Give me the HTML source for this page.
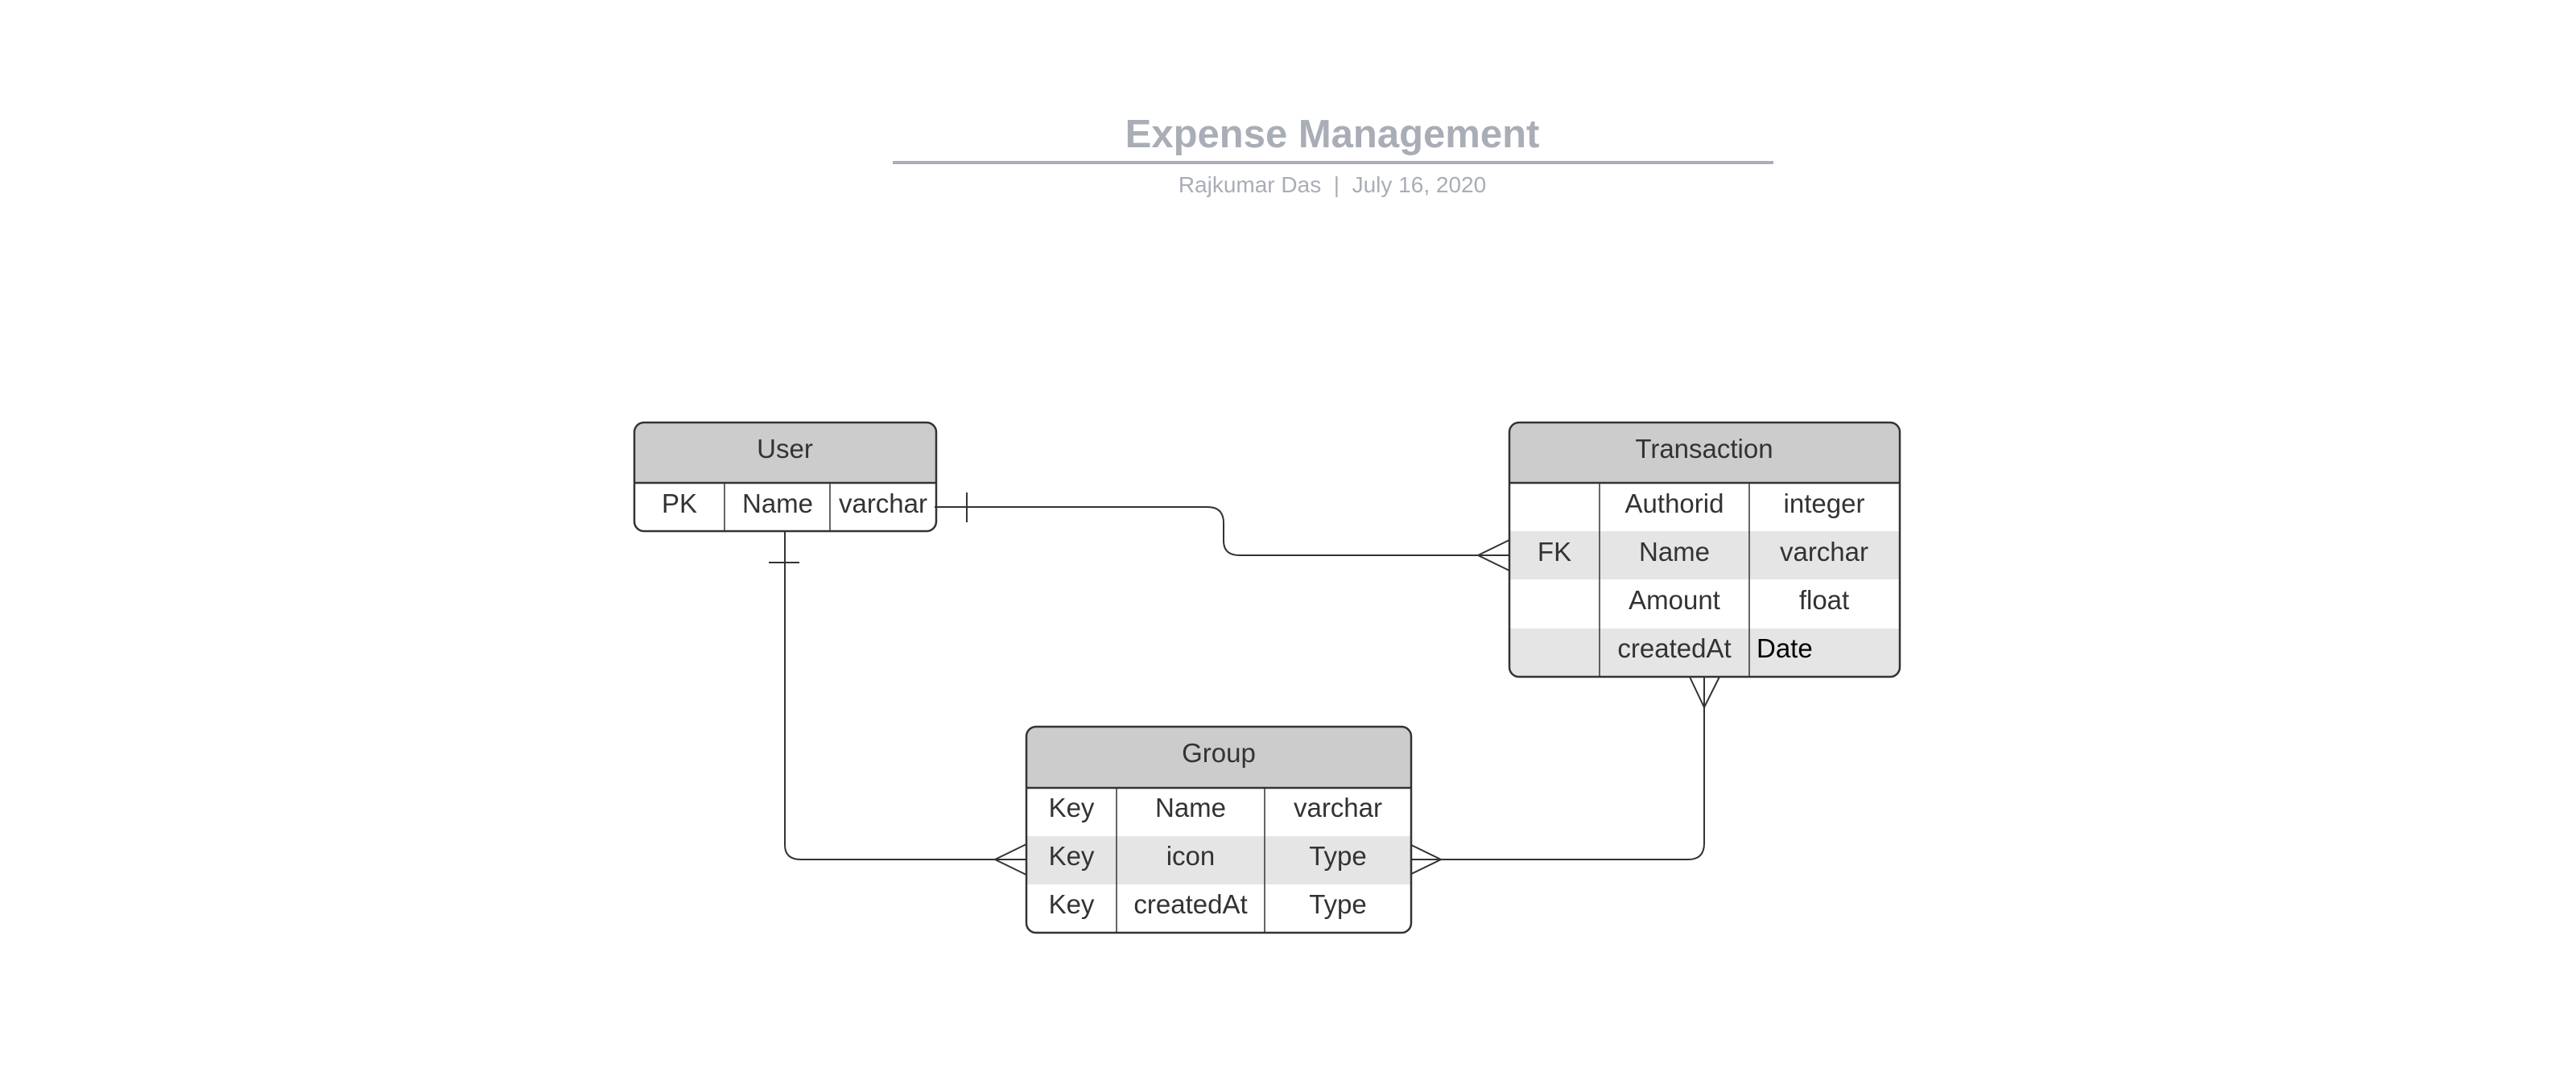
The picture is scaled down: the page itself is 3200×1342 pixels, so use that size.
<!DOCTYPE html>
<html><head><meta charset="utf-8"><style>
html,body{margin:0;padding:0;background:#fff;}
svg{display:block;}
text{font-family:"Liberation Sans",sans-serif;}
</style></head><body>
<svg width="3200" height="1342" viewBox="0 0 3200 1342" xmlns="http://www.w3.org/2000/svg">
<text x="1655" y="183" font-size="49" font-weight="bold" fill="#a9adb6" text-anchor="middle">Expense Management</text>
<rect x="1109" y="200" width="1094" height="4" fill="#a9adb6"/>
<text x="1655" y="239" font-size="28" fill="#a9adb6" text-anchor="middle" xml:space="preserve">Rajkumar Das  |  July 16, 2020</text>

<g fill="none" stroke="#333" stroke-width="2">
<path d="M1161 630 H1500 Q1520 630 1520 650 V672 Q1520 690 1540 690 H1875"/>
<line x1="1201" y1="612" x2="1201" y2="649"/>
<path d="M1875 671 L1836 690 L1875 709"/>
<path d="M975 660 V1050 Q975 1068 995 1068 H1275"/>
<line x1="955" y1="699" x2="993" y2="699"/>
<path d="M1275 1049 L1236 1068 L1275 1087"/>
<path d="M1751 1068 H2097 Q2117 1068 2117 1048 V841"/>
<path d="M1751 1049 L1790 1068 L1751 1087"/>
<path d="M2099 841 L2117 879 L2136 841"/>
</g>

<g>
<path d="M788 600 V537 Q788 525 800 525 H1151 Q1163 525 1163 537 V600 Z" fill="#ccc"/>
<rect x="788" y="525" width="375" height="135" rx="12" fill="none" stroke="#333" stroke-width="2.5"/>
<line x1="788" y1="600" x2="1163" y2="600" stroke="#333" stroke-width="2.5"/>
<line x1="900" y1="600" x2="900" y2="660" stroke="#333" stroke-width="1.5"/>
<line x1="1031" y1="600" x2="1031" y2="660" stroke="#333" stroke-width="1.5"/>
<g font-size="33" fill="#333" text-anchor="middle">
<text x="975" y="569">User</text>
<text x="844" y="637">PK</text>
<text x="966" y="637">Name</text>
<text x="1097" y="637">varchar</text>
</g>
</g>

<g>
<path d="M1875 600 V537 Q1875 525 1887 525 H2348 Q2360 525 2360 537 V600 Z" fill="#ccc"/>
<rect x="1875" y="660" width="485" height="60" fill="#e5e5e5"/>
<path d="M1875 781 H2360 V829 Q2360 841 2348 841 H1887 Q1875 841 1875 829 Z" fill="#e5e5e5"/>
<rect x="1875" y="525" width="485" height="316" rx="12" fill="none" stroke="#333" stroke-width="2.5"/>
<line x1="1875" y1="600" x2="2360" y2="600" stroke="#333" stroke-width="2.5"/>
<line x1="1987" y1="600" x2="1987" y2="841" stroke="#333" stroke-width="1.5"/>
<line x1="2173" y1="600" x2="2173" y2="841" stroke="#333" stroke-width="1.5"/>
<g font-size="33" fill="#333" text-anchor="middle">
<text x="2117" y="569">Transaction</text>
<text x="2080" y="637">Authorid</text>
<text x="2266" y="637">integer</text>
<text x="1931" y="697">FK</text>
<text x="2080" y="697">Name</text>
<text x="2266" y="697">varchar</text>
<text x="2080" y="757">Amount</text>
<text x="2266" y="757">float</text>
<text x="2080" y="817">createdAt</text>
</g>
<text x="2182" y="817" font-size="33" fill="#000">Date</text>
</g>

<g>
<path d="M1275 979 V915 Q1275 903 1287 903 H1741 Q1753 903 1753 915 V979 Z" fill="#ccc"/>
<rect x="1275" y="1039" width="478" height="60" fill="#e5e5e5"/>
<rect x="1275" y="903" width="478" height="256" rx="12" fill="none" stroke="#333" stroke-width="2.5"/>
<line x1="1275" y1="979" x2="1753" y2="979" stroke="#333" stroke-width="2.5"/>
<line x1="1387" y1="979" x2="1387" y2="1159" stroke="#333" stroke-width="1.5"/>
<line x1="1571" y1="979" x2="1571" y2="1159" stroke="#333" stroke-width="1.5"/>
<g font-size="33" fill="#333" text-anchor="middle">
<text x="1514" y="947">Group</text>
<text x="1331" y="1015">Key</text>
<text x="1479" y="1015">Name</text>
<text x="1662" y="1015">varchar</text>
<text x="1331" y="1075">Key</text>
<text x="1479" y="1075">icon</text>
<text x="1662" y="1075">Type</text>
<text x="1331" y="1135">Key</text>
<text x="1479" y="1135">createdAt</text>
<text x="1662" y="1135">Type</text>
</g>
</g>
</svg>
</body></html>
